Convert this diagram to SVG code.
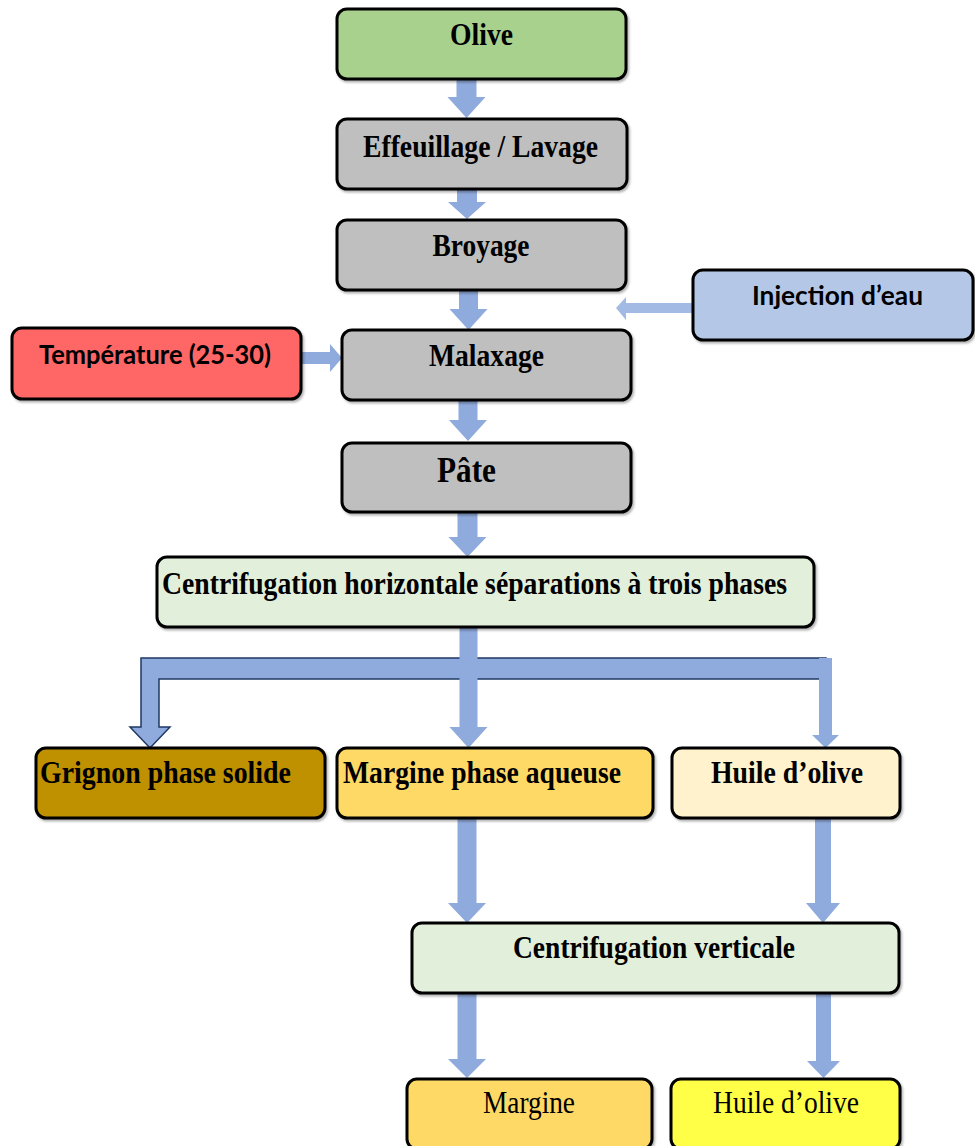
<svg xmlns="http://www.w3.org/2000/svg" width="975" height="1146" viewBox="0 0 975 1146">
  <style>
    .box { stroke: #000; stroke-width: 3; }
    .t { font-family: "Liberation Serif", "Times New Roman", serif; font-weight: bold; font-size: 31px; fill: #000; }
    .tr { font-family: "Liberation Serif", "Times New Roman", serif; font-weight: normal; font-size: 31px; fill: #000; }
    .ts { font-family: Lato, "Liberation Sans", sans-serif; font-weight: bold; font-size: 26px; fill: #000; }
    .arr { fill: #8FAADC; }
    .arr-light { fill: #A3BBE4; }
    .arr-out { fill: #8FAADC; stroke: #1F3864; stroke-width: 1.5; stroke-linejoin: miter; }
  </style>
  <defs>
    <filter id="shadow" x="-5%" y="-10%" width="110%" height="130%">
      <feDropShadow dx="1.5" dy="2" stdDeviation="1" flood-color="#000" flood-opacity="0.3"/>
    </filter>
  </defs>
  <rect width="975" height="1146" fill="#fff"/>

  <!-- connectors -->
  <g id="connectors">
    <path class="arr" d="M456.5,79 H476.5 V97 H485.5 L466.5,118 L447.5,97 H456.5 Z"/>
    <path class="arr" d="M457,189 H477 V202 H486 L467,219 L448,202 H457 Z"/>
    <path class="arr" d="M459,290 H478 V309 H487.5 L468.5,330 L449.5,309 H459 Z"/>
    <path class="arr" d="M458.5,400 H477.5 V420 H487 L468,441 L449,420 H458.5 Z"/>
    <path class="arr" d="M457.5,512 H477.5 V537 H486.5 L467.5,557 L448.5,537 H457.5 Z"/>
    <!-- side inputs -->
    <path class="arr-light" d="M693,303 V313 H626 V320 L616,308 L626,297 V303 Z"/>
    <path class="arr" d="M301,352 H330 V344 L342,358 L330,372 V364 H301 Z"/>
    <!-- three-phase split -->
    <path class="arr-out" d="M826,658 H141 V727 H130 L150,748 L170,727 H159 V679 H826 Z"/>
    <path class="arr" d="M819,658 H832 V735 H839 L825.5,748 L812,735 H819 Z"/>
    <path class="arr" d="M459.5,628 H477.5 V727 H487.5 L468.5,748 L449.5,727 H459.5 Z"/>
    <!-- towards vertical centrifugation -->
    <path class="arr" d="M457.5,818 H476.5 V903 H486 L467,923 L448,903 H457.5 Z"/>
    <path class="arr" d="M815,818 H831 V903 H840 L823,923 L806,903 H815 Z"/>
    <!-- final products -->
    <path class="arr" d="M457.5,993 H476.5 V1059 H486 L467,1078 L448,1059 H457.5 Z"/>
    <path class="arr" d="M816,993 H831 V1061 H840 L823.5,1078 L807,1061 H816 Z"/>
  </g>

  <g id="olive">
    <rect class="box" x="337" y="9" width="289" height="70" rx="10" fill="#A9D18E" filter="url(#shadow)"/>
    <text class="t" x="481.5" y="45" text-anchor="middle" textLength="63" lengthAdjust="spacingAndGlyphs">Olive</text>
  </g>
  <g id="effeuillage">
    <rect class="box" x="337" y="119" width="290" height="70" rx="10" fill="#BFBFBF" filter="url(#shadow)"/>
    <text class="t" x="480.5" y="157" text-anchor="middle" textLength="235" lengthAdjust="spacingAndGlyphs">Effeuillage / Lavage</text>
  </g>
  <g id="broyage">
    <rect class="box" x="337" y="220" width="289" height="70" rx="10" fill="#BFBFBF" filter="url(#shadow)"/>
    <text class="t" x="481" y="256" text-anchor="middle" textLength="97" lengthAdjust="spacingAndGlyphs">Broyage</text>
  </g>
  <g id="injection">
    <rect class="box" x="693" y="270" width="280" height="70" rx="10" fill="#B4C7E7" filter="url(#shadow)"/>
    <text class="ts" x="752" y="305" textLength="171" lengthAdjust="spacingAndGlyphs">Injection d’eau</text>
  </g>
  <g id="temperature">
    <rect class="box" x="12" y="328" width="289" height="71" rx="10" fill="#FF6666" filter="url(#shadow)"/>
    <text class="ts" x="39" y="364" textLength="232" lengthAdjust="spacingAndGlyphs">Température (25-30)</text>
  </g>
  <g id="malaxage">
    <rect class="box" x="342" y="330" width="289" height="70" rx="10" fill="#BFBFBF" filter="url(#shadow)"/>
    <text class="t" x="486.5" y="366" text-anchor="middle" textLength="115" lengthAdjust="spacingAndGlyphs">Malaxage</text>
  </g>
  <g id="pate">
    <rect class="box" x="342" y="443" width="289" height="69" rx="10" fill="#BFBFBF" filter="url(#shadow)"/>
    <text class="t" x="466.5" y="482" text-anchor="middle" textLength="59" lengthAdjust="spacingAndGlyphs" style="font-size:36px">Pâte</text>
  </g>
  <g id="centrifugation-horizontale">
    <rect class="box" x="157" y="557" width="657" height="70" rx="10" fill="#E2EFDA" filter="url(#shadow)"/>
    <text class="t" x="162" y="594" textLength="625" lengthAdjust="spacingAndGlyphs">Centrifugation horizontale séparations à trois phases</text>
  </g>
  <g id="grignon">
    <rect class="box" x="36" y="748" width="289" height="70" rx="10" fill="#BF9000" filter="url(#shadow)"/>
    <text class="t" x="40" y="783" textLength="251" lengthAdjust="spacingAndGlyphs">Grignon phase solide</text>
  </g>
  <g id="margine-aqueuse">
    <rect class="box" x="337" y="748" width="316" height="70" rx="10" fill="#FFD966" filter="url(#shadow)"/>
    <text class="t" x="343" y="783" textLength="278" lengthAdjust="spacingAndGlyphs">Margine phase aqueuse</text>
  </g>
  <g id="huile-phase">
    <rect class="box" x="672" y="748" width="228" height="70" rx="10" fill="#FFF2CC" filter="url(#shadow)"/>
    <text class="t" x="787" y="783" text-anchor="middle" textLength="152" lengthAdjust="spacingAndGlyphs">Huile d’olive</text>
  </g>
  <g id="centrifugation-verticale">
    <rect class="box" x="412" y="923" width="487" height="70" rx="10" fill="#E2EFDA" filter="url(#shadow)"/>
    <text class="t" x="654" y="958" text-anchor="middle" textLength="282" lengthAdjust="spacingAndGlyphs">Centrifugation verticale</text>
  </g>
  <g id="margine">
    <rect class="box" x="407" y="1079" width="245" height="70" rx="10" fill="#FFD966" filter="url(#shadow)"/>
    <text class="tr" x="529" y="1113" text-anchor="middle" textLength="92" lengthAdjust="spacingAndGlyphs">Margine</text>
  </g>
  <g id="huile">
    <rect class="box" x="671" y="1079" width="229" height="70" rx="10" fill="#FFFF47" filter="url(#shadow)"/>
    <text class="tr" x="786" y="1113" text-anchor="middle" textLength="146" lengthAdjust="spacingAndGlyphs">Huile d’olive</text>
  </g>
</svg>
